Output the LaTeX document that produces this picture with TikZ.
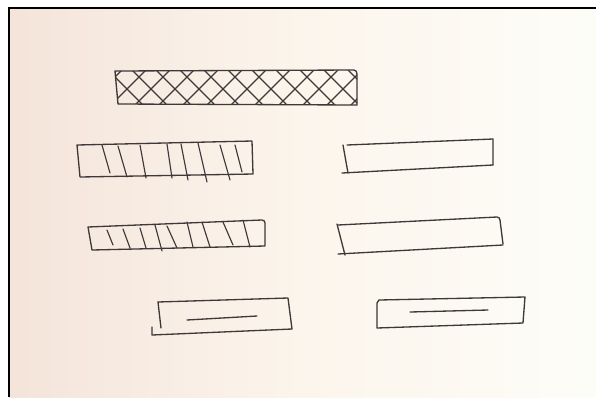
\documentclass[tikz,border=0pt]{standalone}
\usepackage{tikz}
\usepackage{xcolor}
\definecolor{paperpink}{RGB}{244,228,218}
\definecolor{papercream}{RGB}{252,245,236}
\definecolor{paperwhite}{RGB}{253,253,248}
\definecolor{inkgrey}{RGB}{62,56,56}
\def\inkStroke{0.75pt}
\def\hatchStroke{0.65pt}
\def\frameStroke{1.3pt}

\begin{document}
\begin{tikzpicture}[x=0.02cm, y=-0.02cm,
  ink/.style={inkgrey, line width=\inkStroke, line cap=round, line join=round},
  hatch/.style={inkgrey, line width=\hatchStroke, line cap=round}]

% Sheet of paper
\useasboundingbox (0,0) rectangle (596,397);
\fill[white] (0,0) rectangle (596,397);
\shade[left color=paperpink, right color=paperwhite, middle color=papercream] (9,8) rectangle (596,397);

% Frame (left and top only)
\draw[black, line width=\frameStroke] (9,397) -- (9,8) -- (596,8);

% --- Row 1: cross-hatched bar ---
\begin{scope}
  \clip (115,71) -- (354,70) to[out=0, in=90] (357,74) -- (357,105) -- (118,104) -- cycle;
  \foreach \x in {60,84,...,372} {
    \draw[hatch] (\x,70) -- ++(38,38);
    \draw[hatch] (\x+38,70) -- ++(-38,38);
  }
\end{scope}
\draw[ink] (115,71) -- (354,70) to[out=0, in=90] (357,74) -- (357,105) -- (118,104) -- cycle;

% --- Row 2, left: hatched bar ---
\draw[ink] (77,145) -- (252,141) -- (253,174) -- (80,177) -- cycle;
\foreach \xa/\ya/\xb/\yb in {102/145/110/173, 118/146/127/177, 140/145/146/178,
  167/144/172/178, 181/144/188/180, 198/143/207/182, 220/145/230/180, 235/145/242/172} {
  \draw[hatch] (\xa,\ya) -- (\xb,\yb);
}

% --- Row 2, right: empty bar ---
\draw[ink] (343,145) -- (348,173);
\draw[ink] (347,145) -- (493,139) -- (493,165);
\draw[ink] (342,173) -- (493,165);

% --- Row 3, left: hatched bar ---
\draw[ink] (88,227) -- (262,220) to[out=0, in=90] (265,223) -- (265,246) -- (92,250) -- cycle;
\foreach \xa/\ya/\xb/\yb in {107/230/113/245, 123/229/130/248, 140/228/146/248,
  155/225/162/251, 167/226/177/248, 187/222/193/247, 202/222/210/247, 223/222/233/245, 243/220/250/247} {
  \draw[hatch] (\xa,\ya) -- (\xb,\yb);
}

% --- Row 3, right: empty bar ---
\draw[ink] (337,224) -- (345,255);
\draw[ink] (338,225) -- (497,217) to[out=0, in=90] (500,220) -- (503,244);
\draw[ink] (338,254) -- (503,245);

% --- Row 4, left: bar with a line ---
\draw[ink] (158,302) -- (161,328);
\draw[ink] (158,302) -- (288,298) -- (292,329) -- (152,335) -- (152,327);
\draw[ink] (187,320) -- (257,316);

% --- Row 4, right: bar with a line ---
\draw[ink] (377,303) -- (377,328) -- (523,323) -- (525,297) -- (379,300) -- cycle;
\draw[ink] (410,312) -- (488,310);

\end{tikzpicture}
\end{document}
